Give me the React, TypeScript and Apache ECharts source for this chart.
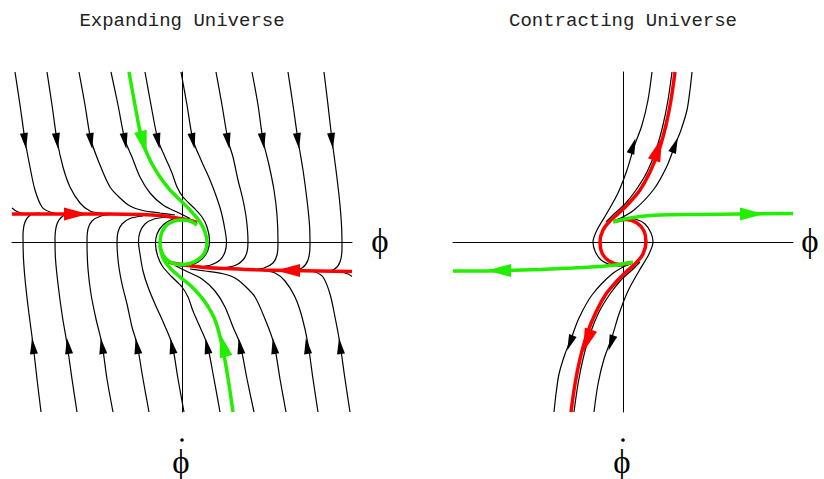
import { useEffect, useRef } from "react";
import * as echarts from "echarts";

type Pt = [number, number];
type Arrow = [number, number, number]; // phi, phidot, direction (deg, 0 = up, ccw)

// ===== Expanding Universe (left panel): phase plane (phi, phidot) =====
const expRedUpper: Pt[] = [[-3.4,0.56],[-2.84,0.56],[-2.12,0.56],[-1.44,0.56],[-0.84,0.55],[-0.44,0.53],[-0.1,0.48],[0.16,0.43],[0.3,0.39]];
const expRedLower: Pt[] = [[3.4,-0.59],[2.76,-0.58],[2.12,-0.57],[1.46,-0.556],[0.86,-0.53],[0.46,-0.51],[0.12,-0.47],[-0.14,-0.43],[-0.28,-0.4]];
const expGreenUpper: Pt[] = [[-1.06,3.4],[-0.94,2.74],[-0.8,2.04],[-0.64,1.64],[-0.44,1.3],[-0.24,1.04],[-0.04,0.84],[0.16,0.64],[0.36,0.4],[0.46,0.2],[0.5,0],[0.46,-0.2],[0.34,-0.34],[0.16,-0.43],[-0.04,-0.45],[-0.24,-0.4],[-0.38,-0.26],[-0.44,-0.06],[-0.42,0.14],[-0.34,0.3],[-0.2,0.4],[-0.02,0.44],[0.16,0.42],[0.3,0.34]];
const expGreenLower: Pt[] = [[1.02,-3.4],[0.92,-2.72],[0.8,-2.06],[0.66,-1.56],[0.46,-1.2],[0.22,-0.92],[-0.04,-0.7],[-0.24,-0.52],[-0.38,-0.32],[-0.44,-0.08]];

const expC1: Pt[] = [[-3.34,3.4],[-3.24,2.74],[-3.14,2.04],[-3.04,1.5],[-2.94,1.04],[-2.8,0.7],[-2.64,0.6],[-2.4,0.56],[-2.14,0.56]];
const expC2: Pt[] = [[-2.7,3.4],[-2.6,2.74],[-2.5,2.04],[-2.38,1.5],[-2.24,1.1],[-2.04,0.78],[-1.84,0.62],[-1.58,0.57],[-1.34,0.56]];
const expC3: Pt[] = [[-2.06,3.4],[-1.94,2.74],[-1.82,2.04],[-1.64,1.54],[-1.44,1.1],[-1.24,0.88],[-1.04,0.72],[-0.78,0.63],[-0.44,0.58],[-0.14,0.54]];
const expC4: Pt[] = [[-1.42,3.4],[-1.28,2.74],[-1.14,2.04],[-1.0,1.7],[-0.84,1.3],[-0.64,0.98],[-0.38,0.74],[-0.1,0.6],[0.16,0.47]];
const expC5: Pt[] = [[-0.74,3.4],[-0.62,2.74],[-0.48,2.04],[-0.34,1.7],[-0.2,1.38],[-0.1,1.1],[0.02,0.9],[0.22,0.7],[0.4,0.5],[0.5,0.3],[0.55,0.04],[0.52,-0.16],[0.4,-0.34],[0.2,-0.46],[0.0,-0.48],[-0.2,-0.44]];
const expC6: Pt[] = [[-0.02,3.4],[0.1,2.74],[0.22,2.04],[0.38,1.64],[0.56,1.24],[0.69,0.9],[0.79,0.58],[0.86,0.24],[0.89,0],[0.86,-0.2],[0.76,-0.36],[0.58,-0.46],[0.32,-0.5]];
const expC7: Pt[] = [[0.68,3.4],[0.8,2.74],[0.92,2.04],[1.02,1.7],[1.12,1.24],[1.22,0.84],[1.29,0.44],[1.32,0],[1.3,-0.2],[1.22,-0.36],[1.06,-0.47],[0.8,-0.52]];
const expC8: Pt[] = [[1.4,3.4],[1.52,2.74],[1.62,2.04],[1.74,1.54],[1.84,1.04],[1.9,0.54],[1.92,0],[1.9,-0.26],[1.82,-0.42],[1.64,-0.52],[1.4,-0.55]];
const expC9: Pt[] = [[2.12,3.4],[2.22,2.74],[2.32,2.04],[2.42,1.44],[2.5,0.84],[2.55,0.34],[2.56,-0.06],[2.52,-0.36],[2.4,-0.52],[2.2,-0.57]];
const expC10: Pt[] = [[2.84,3.4],[2.92,2.74],[3.0,2.04],[3.08,1.44],[3.15,0.84],[3.19,0.34],[3.2,-0.12],[3.16,-0.4],[3.04,-0.55],[2.86,-0.58]];

const expD1: Pt[] = [[-2.82,-3.4],[-2.9,-2.74],[-2.98,-2.04],[-3.06,-1.44],[-3.13,-0.84],[-3.17,-0.34],[-3.18,0.12],[-3.14,0.4],[-3.02,0.55],[-2.84,0.58]];
const expD2: Pt[] = [[-2.1,-3.4],[-2.2,-2.74],[-2.3,-2.04],[-2.4,-1.44],[-2.48,-0.84],[-2.53,-0.34],[-2.54,0.06],[-2.5,0.36],[-2.38,0.52],[-2.18,0.57]];
const expD3: Pt[] = [[-1.38,-3.4],[-1.5,-2.74],[-1.6,-2.04],[-1.72,-1.54],[-1.82,-1.04],[-1.88,-0.54],[-1.9,0],[-1.88,0.26],[-1.8,0.42],[-1.62,0.52],[-1.38,0.55]];
const expD4: Pt[] = [[-0.66,-3.4],[-0.78,-2.74],[-0.9,-2.04],[-1.0,-1.7],[-1.1,-1.24],[-1.2,-0.84],[-1.27,-0.44],[-1.3,0],[-1.28,0.2],[-1.2,0.36],[-1.04,0.47],[-0.78,0.52]];
const expD5: Pt[] = [[0.04,-3.4],[-0.08,-2.74],[-0.2,-2.04],[-0.36,-1.64],[-0.54,-1.24],[-0.68,-0.9],[-0.78,-0.58],[-0.84,-0.24],[-0.87,0],[-0.84,0.2],[-0.74,0.36],[-0.56,0.46],[-0.3,0.5]];
const expD6: Pt[] = [[0.76,-3.4],[0.64,-2.74],[0.5,-2.04],[0.36,-1.7],[0.22,-1.38],[0.12,-1.1],[0.0,-0.9],[-0.2,-0.7],[-0.38,-0.5],[-0.48,-0.3],[-0.53,-0.04],[-0.5,0.16],[-0.38,0.34],[-0.18,0.46],[0.02,0.48],[0.22,0.44]];
const expE4: Pt[] = [[1.44,-3.4],[1.3,-2.74],[1.16,-2.04],[1.02,-1.7],[0.86,-1.3],[0.66,-0.98],[0.4,-0.74],[0.12,-0.6],[-0.14,-0.47]];
const expE3: Pt[] = [[2.08,-3.4],[1.96,-2.74],[1.84,-2.04],[1.66,-1.54],[1.46,-1.1],[1.26,-0.88],[1.06,-0.72],[0.8,-0.63],[0.46,-0.58],[0.16,-0.54]];
const expE2: Pt[] = [[2.72,-3.4],[2.62,-2.74],[2.52,-2.04],[2.4,-1.5],[2.26,-1.1],[2.06,-0.78],[1.86,-0.62],[1.6,-0.57],[1.36,-0.56]];
const expE1: Pt[] = [[3.36,-3.4],[3.26,-2.74],[3.16,-2.04],[3.06,-1.5],[2.96,-1.04],[2.82,-0.7],[2.66,-0.6],[2.42,-0.56],[2.16,-0.56]];
const expCurlLeft: Pt[] = [[-3.4,0.68],[-3.3,0.61],[-3.16,0.57],[-2.94,0.56]];
const expCurlRight: Pt[] = [[3.4,-0.69],[3.32,-0.64],[3.18,-0.6],[2.96,-0.59]];

const expBlackArrows: Arrow[] = [
  [-3.14,2.02,188],[-2.5,2.02,188],[-1.82,2.02,189],[-1.14,2.02,190],[-0.48,2.02,191],[0.22,2.02,191],[0.92,2.02,190],[1.62,2.02,189],[2.32,2.02,188],[3.0,2.02,187],
  [-2.98,-2.08,7],[-2.28,-2.08,8],[-1.6,-2.08,9],[-0.9,-2.08,10],[-0.2,-2.08,11],[0.5,-2.08,11],[1.16,-2.08,10],[1.84,-2.08,9],[2.5,-2.08,8],[3.16,-2.08,7],
];
const expRedArrows: Arrow[] = [[-2.12,0.56,-90],[2.12,-0.57,90]];
const expGreenArrows: Arrow[] = [[-0.77,1.98,195],[0.82,-2.06,15]];

// ===== Contracting Universe (right panel) =====
const conGreenUpper: Pt[] = [[-0.2,0.4],[0.04,0.46],[0.34,0.51],[0.74,0.54],[1.54,0.55],[2.34,0.56],[3.4,0.57]];
const conGreenLower: Pt[] = [[-3.4,-0.58],[-2.46,-0.574],[-1.66,-0.55],[-1.0,-0.52],[-0.46,-0.49],[-0.06,-0.45],[0.2,-0.4]];
const conRedUpper: Pt[] = [[1.04,3.4],[0.96,2.84],[0.86,2.34],[0.72,1.84],[0.54,1.4],[0.34,1.04],[0.14,0.8],[-0.06,0.6],[-0.26,0.42],[-0.4,0.24],[-0.46,0],[-0.42,-0.22],[-0.28,-0.38],[-0.06,-0.45],[0.16,-0.41]];
const conRedLower: Pt[] = [[-1.04,-3.4],[-0.96,-2.84],[-0.86,-2.34],[-0.72,-1.84],[-0.54,-1.4],[-0.34,-1.04],[-0.14,-0.8],[0.06,-0.6],[0.26,-0.42],[0.4,-0.24],[0.46,0],[0.42,0.22],[0.28,0.38],[0.06,0.45],[-0.16,0.41]];
const conT1: Pt[] = [[0.58,3.4],[0.5,2.84],[0.38,2.34],[0.22,1.9],[0.08,1.44],[-0.1,0.98],[-0.32,0.58],[-0.52,0.24],[-0.6,0],[-0.56,-0.18],[-0.44,-0.36],[-0.24,-0.46],[0.0,-0.48],[0.2,-0.42]];
const conT2: Pt[] = [[0.98,3.4],[0.9,2.84],[0.8,2.34],[0.66,1.84],[0.48,1.4],[0.26,1.04],[0.04,0.76],[-0.18,0.56],[-0.34,0.4]];
const conT3: Pt[] = [[1.38,3.4],[1.34,3.04],[1.28,2.64],[1.16,2.24],[1.04,1.94],[0.88,1.52],[0.62,1.06],[0.22,0.64],[-0.12,0.44]];
const conB1: Pt[] = [[-0.58,-3.4],[-0.5,-2.84],[-0.38,-2.34],[-0.22,-1.9],[-0.08,-1.44],[0.1,-0.98],[0.32,-0.58],[0.52,-0.24],[0.6,0],[0.56,0.18],[0.44,0.36],[0.24,0.46],[0.0,0.48],[-0.2,0.42]];
const conB2: Pt[] = [[-0.98,-3.4],[-0.9,-2.84],[-0.8,-2.34],[-0.66,-1.84],[-0.48,-1.4],[-0.26,-1.04],[-0.04,-0.76],[0.18,-0.56],[0.34,-0.4]];
const conB3: Pt[] = [[-1.38,-3.4],[-1.34,-3.04],[-1.28,-2.64],[-1.16,-2.24],[-1.04,-1.94],[-0.88,-1.52],[-0.62,-1.06],[-0.22,-0.64],[0.12,-0.44]];

const conBlackArrows: Arrow[] = [[0.2,1.92,-18],[1.04,1.94,-21],[-1.06,-2.02,159],[-0.24,-2.02,162]];
const conRedArrows: Arrow[] = [[0.7,1.86,-19],[-0.72,-1.98,161]];
const conGreenArrows: Arrow[] = [[2.58,0.56,-90],[-2.48,-0.57,90]];

const titles = ["Expanding Universe", "Contracting Universe"];
const phiLabel = "ϕ";

const BLACK = "#000";
const RED = "#ff0000";
const GREEN = "#22ee00";

function lineSeries(data: Pt[], panel: number, color: string, width: number, z: number) {
  return {
    type: "line",
    xAxisIndex: panel,
    yAxisIndex: panel,
    data,
    smooth: 0.3,
    symbol: "none",
    showSymbol: false,
    silent: true,
    clip: false,
    z,
    lineStyle: { color, width },
  };
}

function arrowSeries(list: Arrow[], panel: number, color: string, size: number[]) {
  return {
    type: "scatter",
    xAxisIndex: panel,
    yAxisIndex: panel,
    symbol: "triangle",
    symbolSize: size,
    silent: true,
    z: 10,
    itemStyle: { color, opacity: 1 },
    data: list.map(([x, y, r]) => ({ value: [x, y], symbolRotate: r })),
  };
}

export default function App() {
  const ref = useRef<HTMLDivElement>(null);
  useEffect(() => {
    if (!ref.current) return;
    const chart = echarts.init(ref.current, undefined, { renderer: "svg" });
    const expBlack = [expC1, expC2, expC3, expC4, expC5, expC6, expC7, expC8, expC9, expC10,
      expD1, expD2, expD3, expD4, expD5, expD6, expE1, expE2, expE3, expE4, expCurlLeft, expCurlRight];
    const conBlack = [conT1, conT2, conT3, conB1, conB2, conB3];
    const series: any[] = [];
    expBlack.forEach((d) => series.push(lineSeries(d, 0, BLACK, 1.2, 2)));
    conBlack.forEach((d) => series.push(lineSeries(d, 1, BLACK, 1.2, 2)));
    series.push(lineSeries(expRedUpper, 0, RED, 3.5, 4));
    series.push(lineSeries(expRedLower, 0, RED, 3.5, 4));
    series.push(lineSeries(expGreenUpper, 0, GREEN, 3.5, 5));
    series.push(lineSeries(expGreenLower, 0, GREEN, 3.5, 5));
    series.push(lineSeries(conRedUpper, 1, RED, 3.5, 4));
    series.push(lineSeries(conRedLower, 1, RED, 3.5, 4));
    series.push(lineSeries(conGreenUpper, 1, GREEN, 3.5, 5));
    series.push(lineSeries(conGreenLower, 1, GREEN, 3.5, 5));
    series.push(arrowSeries(expBlackArrows, 0, BLACK, [8, 16]));
    series.push(arrowSeries(expRedArrows, 0, RED, [13, 24]));
    series.push(arrowSeries(expGreenArrows, 0, GREEN, [13, 24]));
    series.push(arrowSeries(conBlackArrows, 1, BLACK, [8, 16]));
    series.push(arrowSeries(conRedArrows, 1, RED, [13, 24]));
    series.push(arrowSeries(conGreenArrows, 1, GREEN, [13, 24]));

    const axis = (i: number) => ({
      gridIndex: i,
      type: "value",
      min: -3.4,
      max: 3.4,
      axisLine: { show: true, onZero: true, lineStyle: { color: "#000", width: 1 } },
      axisTick: { show: false },
      axisLabel: { show: false },
      splitLine: { show: false },
    });

    const centers = [182, 623];
    const phiX = [380, 810];
    const textFont = "19px 'Liberation Mono', 'DejaVu Sans Mono', monospace";
    const phiFont = "33px 'Liberation Serif', 'DejaVu Serif', serif";
    const graphic: any[] = [];
    centers.forEach((cx, i) => {
      graphic.push({ type: "text", x: cx, y: 21, style: { text: titles[i], font: textFont, fill: "#222", align: "center", verticalAlign: "middle" } });
      graphic.push({ type: "text", x: phiX[i], y: 241, style: { text: phiLabel, font: phiFont, fill: "#000", align: "center", verticalAlign: "middle" } });
      graphic.push({ type: "text", x: cx - 1, y: 462, style: { text: phiLabel, font: phiFont, fill: "#000", align: "center", verticalAlign: "middle" } });
      graphic.push({ type: "circle", shape: { cx: cx, cy: 440, r: 1.8 }, style: { fill: "#000" } });
    });

    chart.setOption({
      animation: false,
      backgroundColor: "#fff",
      grid: [
        { left: 12, top: 72, width: 340, height: 340 },
        { left: 453, top: 72, width: 340, height: 340 },
      ],
      xAxis: [axis(0), axis(1)],
      yAxis: [axis(0), axis(1)],
      series,
      graphic,
    });
    return () => chart.dispose();
  }, []);
  return <div ref={ref} style={{ position: "fixed", left: 0, top: 0, width: 824, height: 479, background: "#fff" }} />;
}
